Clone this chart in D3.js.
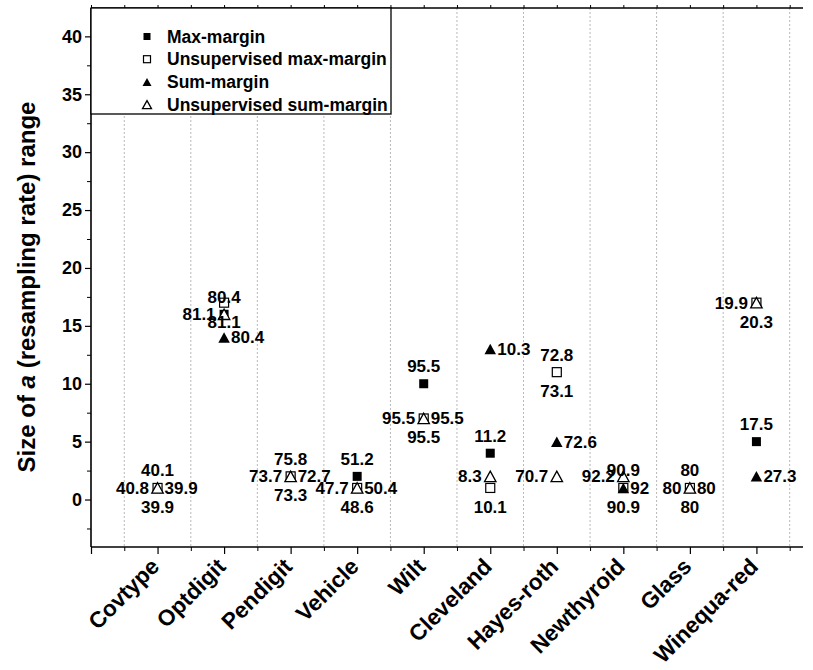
<!DOCTYPE html>
<html>
<head>
<meta charset="utf-8">
<script src="https://cdn.jsdelivr.net/npm/d3@7"></script>
<style>
  html, body { margin: 0; padding: 0; background: #fff; }
  svg { display: block; font-family: "Liberation Sans", Arial, sans-serif; font-weight: bold; }
</style>
</head>
<body>
<svg id="chart" width="813" height="670"></svg>
<script>
// Data sets (x positions are 1..10)
const categories = ["Covtype", "Optdigit", "Pendigit", "Vehicle", "Wilt",
                    "Cleveland", "Hayes-roth", "Newthyroid", "Glass", "Winequa-red"];

// Size of a (resampling rate) range for each method
const maxMargin      = [1, 16, 2, 2, 10, 4, 11, 1, 1, 5];
const unsupMaxMargin = [1, 17, 2, 1, 7, 1, 11, 1, 1, 17];
const sumMargin      = [1, 14, 2, 1, 7, 13, 5, 1, 1, 2];
const unsupSumMargin = [1, 16, 2, 1, 7, 2, 2, 2, 1, 17];

// Accuracy annotations attached to each point
const maxMarginAcc      = [40.1, 80.4, 75.8, 51.2, 95.5, 11.2, 72.8, 90.9, 80, 17.5];
const unsupMaxMarginAcc = [39.9, 81.1, 73.3, 48.6, 95.5, 10.1, 73.1, 90.9, 80, 20.3];
const sumMarginAcc      = [39.9, 80.4, 72.7, 50.4, 95.5, 10.3, 72.6, 92, 80, 27.3];
const unsupSumMarginAcc = [40.8, 81.1, 73.7, 47.7, 95.5, 8.3, 70.7, 92.2, 80, 19.9];

const yTicks = [0, 5, 10, 15, 20, 25, 30, 35, 40];

const seriesNames = ["Max-margin", "Unsupervised max-margin", "Sum-margin", "Unsupervised sum-margin"];

const svg = d3.select("#chart");
const plotL = 91, plotR = 803, plotT = 8, plotB = 547;

const x = d3.scaleLinear().domain([0, 10.7]).range([plotL, plotR]);
const y = d3.scaleLinear().domain([-4.1, 42.45]).range([plotB, plotT]);

// vertical dotted grid lines between categories
const gridX = d3.range(0.5, 10.6, 1);
svg.append("g").selectAll("line").data(gridX).join("line")
  .attr("x1", d => x(d)).attr("x2", d => x(d))
  .attr("y1", plotT).attr("y2", plotB)
  .attr("stroke", "#b8b8b8").attr("stroke-width", 1)
  .attr("stroke-dasharray", "2,2");

// bottom axis: major ticks at categories, minor at midpoints
const xMajor = d3.range(0, 11, 1);
const xMinor = d3.range(0.5, 10.6, 1);
const bottomAxis = svg.append("g").attr("transform", `translate(0,${plotB})`)
  .call(d3.axisBottom(x).tickValues(xMajor).tickSize(7).tickFormat(""));
bottomAxis.select(".domain").remove();
bottomAxis.selectAll("line").attr("stroke-width", 1.2);
const bottomMinor = svg.append("g").attr("transform", `translate(0,${plotB})`)
  .call(d3.axisBottom(x).tickValues(xMinor).tickSize(4).tickFormat(""));
bottomMinor.select(".domain").remove();

// top axis ticks
const topAxis = svg.append("g").attr("transform", `translate(0,${plotT})`)
  .call(d3.axisTop(x).tickValues(xMajor.concat(xMinor)).tickSize(3).tickFormat(""));
topAxis.select(".domain").remove();

// left axis
const yMinor = d3.range(-2.5, 42.5, 5);
const leftAxis = svg.append("g").attr("transform", `translate(${plotL},0)`)
  .call(d3.axisLeft(y).tickValues(yTicks).tickSize(6).tickPadding(3));
leftAxis.select(".domain").remove();
leftAxis.selectAll("text")
  .attr("font-size", 18).attr("font-weight", "bold")
  .attr("font-family", "Liberation Sans, Arial, sans-serif").attr("fill", "#000");
leftAxis.selectAll("line").attr("stroke-width", 1.2);
const leftMinor = svg.append("g").attr("transform", `translate(${plotL},0)`)
  .call(d3.axisLeft(y).tickValues(yMinor).tickSize(4).tickFormat(""));
leftMinor.select(".domain").remove();

// frame lines
svg.append("line").attr("x1", plotL).attr("x2", plotL).attr("y1", plotT).attr("y2", plotB)
  .attr("stroke", "#000").attr("stroke-width", 1.6);
svg.append("line").attr("x1", plotL).attr("x2", plotR).attr("y1", plotB).attr("y2", plotB)
  .attr("stroke", "#000").attr("stroke-width", 1.6);
svg.append("line").attr("x1", plotL).attr("x2", plotR).attr("y1", plotT).attr("y2", plotT)
  .attr("stroke", "#000").attr("stroke-width", 1.6);

// category labels, rotated
svg.append("g").selectAll("text").data(categories).join("text")
  .attr("transform", (d, i) => `translate(${x(i + 1) + 3},${plotB + 21}) rotate(-45)`)
  .attr("text-anchor", "end")
  .attr("font-size", 22.5)
  .text(d => d);

// y axis title
const yTitle = svg.append("text")
  .attr("transform", `translate(35,287) rotate(-90)`)
  .attr("text-anchor", "middle")
  .attr("font-size", 24);
yTitle.append("tspan").text("Size of ");
yTitle.append("tspan").attr("font-style", "italic").text("a");
yTitle.append("tspan").text(" (resampling rate) range");

// marker shapes
const sq = 9, tw = 11.5, th = 10.5;
function drawSquare(g, cx, cy, filled, s) {
  g.append("rect").attr("x", cx - s / 2).attr("y", cy - s / 2)
    .attr("width", s).attr("height", s)
    .attr("fill", filled ? "#000" : "#fff")
    .attr("stroke", "#000").attr("stroke-width", filled ? 0 : 1.2);
}
function drawTriangle(g, cx, cy, filled, w, h) {
  const p = [[cx, cy - h / 2], [cx + w / 2, cy + h / 2], [cx - w / 2, cy + h / 2]];
  g.append("path").attr("d", "M" + p.map(q => q.join(",")).join("L") + "Z")
    .attr("fill", filled ? "#000" : "#fff")
    .attr("stroke", "#000").attr("stroke-width", filled ? 0 : 1.3)
    .attr("stroke-linejoin", "miter");
}

const series = [
  { values: maxMargin,      acc: maxMarginAcc,      shape: "square",   filled: true,  pos: "above" },
  { values: unsupMaxMargin, acc: unsupMaxMarginAcc, shape: "square",   filled: false, pos: "below" },
  { values: sumMargin,      acc: sumMarginAcc,      shape: "triangle", filled: true,  pos: "right" },
  { values: unsupSumMargin, acc: unsupSumMarginAcc, shape: "triangle", filled: false, pos: "left" }
];

const marks = svg.append("g");
series.forEach(s => {
  s.values.forEach((v, i) => {
    const cx = x(i + 1), cy = y(v);
    if (s.shape === "square") drawSquare(marks, cx, cy, s.filled, sq);
    else drawTriangle(marks, cx, cy, s.filled, tw, th);
  });
});

// value annotations
const labels = svg.append("g").attr("font-size", 17);
series.forEach(s => {
  s.values.forEach((v, i) => {
    const cx = x(i + 1), cy = y(v);
    const t = labels.append("text").text(String(s.acc[i]));
    if (s.pos === "above") t.attr("x", cx).attr("y", cy - 11.5).attr("text-anchor", "middle");
    else if (s.pos === "below") t.attr("x", cx).attr("y", cy + 25).attr("text-anchor", "middle");
    else if (s.pos === "right") t.attr("x", cx + 7).attr("y", cy + 6).attr("text-anchor", "start");
    else t.attr("x", cx - 8.5).attr("y", cy + 6).attr("text-anchor", "end");
  });
});

// legend
const lg = svg.append("g");
lg.append("rect").attr("x", plotL).attr("y", plotT).attr("width", 300).attr("height", 106)
  .attr("fill", "#fff").attr("stroke", "#000").attr("stroke-width", 1.3);
const rowY = [36.5, 59.2, 81.9, 104.6];
series.forEach((s, k) => {
  const cy = rowY[k];
  if (s.shape === "square") drawSquare(lg, 147, cy, s.filled, 7);
  else drawTriangle(lg, 147, cy, s.filled, 9, 8);
  lg.append("text").attr("x", 167).attr("y", cy + 6).attr("font-size", 17.5).text(seriesNames[k]);
});
</script>
</body>
</html>
